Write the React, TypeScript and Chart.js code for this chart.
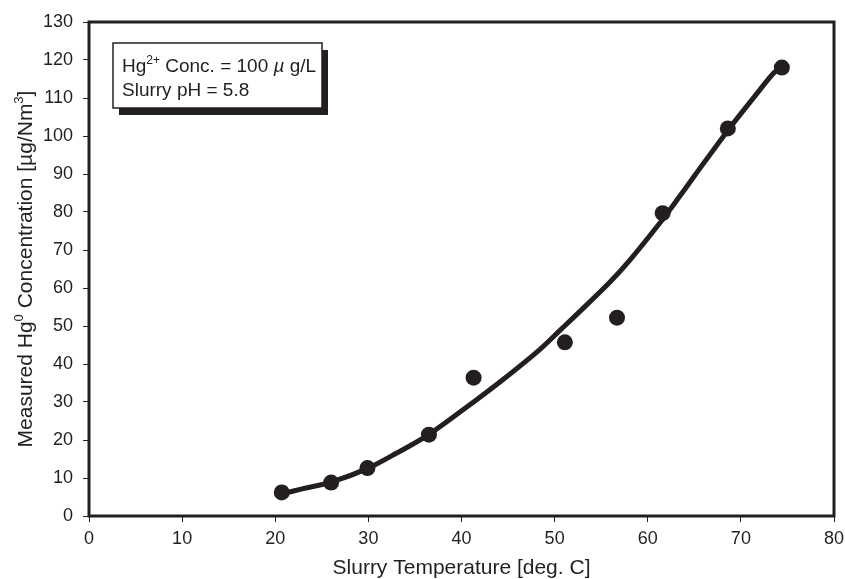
import React, { useEffect, useRef } from 'react';
import { Chart, registerables } from 'chart.js';

Chart.register(...registerables);

// Measured data points
const measuredTemp = [20.7, 26.0, 29.9, 36.5, 41.3, 51.1, 56.7, 61.6, 68.6, 74.4];
const measuredHg = [6.2, 8.8, 12.6, 21.4, 36.4, 45.7, 52.2, 79.7, 102.0, 118.0];

// Fitted trend curve
const fitTemp = [20.7, 23.0, 26.0, 30.0, 33.0, 36.4, 40.2, 44.5, 48.4, 50.6, 53.0, 56.0, 58.1, 61.3, 63.1, 65.1, 68.7, 71.5, 73.5, 74.3];
const fitHg = [5.8, 7.2, 8.9, 12.6, 16.5, 21.3, 28.0, 36.0, 43.8, 48.9, 54.5, 61.7, 67.4, 77.1, 83.0, 89.8, 101.8, 110.5, 116.5, 118.0];

const xMin = 0, xMax = 80, xStep = 10;
const yMin = 0, yMax = 130, yStep = 10;

const xTitle = 'Slurry Temperature [deg. C]';
const yTitleParts = [
  { t: 'Measured Hg', sup: false },
  { t: '0', sup: true },
  { t: ' Concentration [µg/Nm', sup: false },
  { t: '3', sup: true },
  { t: ']', sup: false },
];
const noteLine1 = [
  { t: 'Hg', sup: false },
  { t: '2+', sup: true },
  { t: ' Conc. = 100 ', sup: false },
  { t: 'µ', sup: false, italic: true },
  { t: ' g/L', sup: false },
];
const noteLine2 = 'Slurry pH = 5.8';

const INK = '#231f20';
const FONT = '"Liberation Sans", Arial, sans-serif';

type Part = { t: string; sup: boolean; italic?: boolean };

function drawRich(ctx: CanvasRenderingContext2D, parts: Part[], x: number, y: number, size: number, align: 'left' | 'center') {
  const fontFor = (p: Part) => `${p.italic ? 'italic ' : ''}${p.sup ? Math.round(size * 0.62) : size}px ${FONT}`;
  let total = 0;
  for (const p of parts) {
    ctx.font = fontFor(p);
    total += ctx.measureText(p.t).width;
  }
  let cx = align === 'center' ? x - total / 2 : x;
  ctx.textBaseline = 'alphabetic';
  ctx.textAlign = 'left';
  for (const p of parts) {
    ctx.font = fontFor(p);
    ctx.fillText(p.t, cx, p.sup ? y - size * 0.42 : y);
    cx += ctx.measureText(p.t).width;
  }
}

const decorPlugin = {
  id: 'decor',
  afterDraw(chart: any) {
    const { ctx, chartArea } = chart;
    const { left, right, top, bottom } = chartArea;
    ctx.save();
    // frame
    ctx.strokeStyle = INK;
    ctx.lineWidth = 3;
    ctx.strokeRect(left, top, right - left, bottom - top);

    ctx.fillStyle = INK;
    // x title
    drawRich(ctx, [{ t: xTitle, sup: false }], (left + right) / 2, 574, 21, 'center');
    // y title
    ctx.save();
    ctx.translate(32, (top + bottom) / 2);
    ctx.rotate(-Math.PI / 2);
    drawRich(ctx, yTitleParts, 0, 0, 21, 'center');
    ctx.restore();

    // annotation box with shadow
    const bx = 113, by = 43, bw = 209, bh = 65;
    ctx.fillStyle = INK;
    ctx.fillRect(bx + 6, by + 7, bw, bh);
    ctx.fillStyle = '#ffffff';
    ctx.fillRect(bx, by, bw, bh);
    ctx.strokeStyle = INK;
    ctx.lineWidth = 1.5;
    ctx.strokeRect(bx, by, bw, bh);
    ctx.fillStyle = INK;
    drawRich(ctx, noteLine1, bx + 9, 72, 19, 'left');
    drawRich(ctx, [{ t: noteLine2, sup: false }], bx + 9, 96, 19, 'left');
    ctx.restore();
  },
};

export default function App() {
  const ref = useRef<HTMLCanvasElement | null>(null);
  useEffect(() => {
    if (!ref.current) return;
    const chart = new Chart(ref.current, {
      type: 'scatter',
      data: {
        datasets: [
          {
            label: 'fit',
            data: fitTemp.map((x, i) => ({ x, y: fitHg[i] })),
            showLine: true,
            borderColor: INK,
            borderWidth: 5,
            pointRadius: 0,
            tension: 0.3,
            order: 2,
          },
          {
            label: 'measured',
            data: measuredTemp.map((x, i) => ({ x, y: measuredHg[i] })),
            backgroundColor: INK,
            borderColor: INK,
            borderWidth: 0,
            pointRadius: 8,
            order: 1,
          },
        ],
      },
      options: {
        responsive: false,
        animation: false,
        layout: { padding: { top: 22, right: 11, left: 0, bottom: 0 } },
        plugins: { legend: { display: false }, tooltip: { enabled: false } },
        scales: {
          x: {
            type: 'linear',
            min: xMin,
            max: xMax,
            afterFit: (s: any) => { s.height = 63; s.paddingRight = 0; s.paddingLeft = 0; },
            ticks: { stepSize: xStep, color: INK, font: { family: FONT, size: 18 }, padding: 6, maxRotation: 0 },
            grid: { drawOnChartArea: false, drawTicks: true, tickLength: 6, color: INK, lineWidth: 1 },
            border: { display: false },
          },
          y: {
            type: 'linear',
            min: yMin,
            max: yMax,
            afterFit: (s: any) => { s.width = 89; s.paddingTop = 0; s.paddingBottom = 0; },
            ticks: { stepSize: yStep, color: INK, font: { family: FONT, size: 18 }, padding: 10 },
            grid: { drawOnChartArea: false, drawTicks: true, tickLength: 6, color: INK, lineWidth: 1 },
            border: { display: false },
          },
        },
      },
      plugins: [decorPlugin],
    });
    return () => chart.destroy();
  }, []);
  return (
    <div style={{ position: 'fixed', left: 0, top: 0, width: 845, height: 579, background: '#fff' }}>
      <canvas ref={ref} width={845} height={579} />
    </div>
  );
}
